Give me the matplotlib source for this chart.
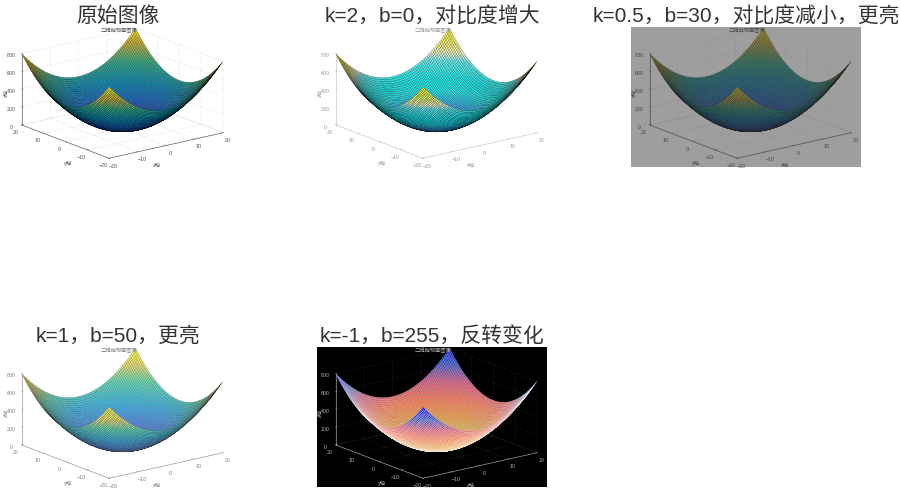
import numpy as np
import matplotlib
matplotlib.use("Agg")
import matplotlib.pyplot as plt
from matplotlib.colors import LinearSegmentedColormap

titles = ["原始图像", "k=2，b=0，对比度增大", "k=0.5，b=30，对比度减小，更亮",
          "k=1，b=50，更亮", "k=-1，b=255，反转变化"]
inner_titles = ["二维抛物面图像", "二维抛物面图像", "二维抛物面图像", "二维抛物面图像", "二维抛物面图像"]
gain = [1, 2, 0.5, 1, -1]
offset = [0, 0, 30, 50, 255]
half_grid = [0, 0.5, 1, 1.5, 2, 2.5, 3, 3.5, 4, 4.5, 5, 5.5, 6, 6.5, 7, 7.5, 8, 8.5, 9, 9.5, 10,
             10.5, 11, 11.5, 12, 12.5, 13, 13.5, 14, 14.5, 15, 15.5, 16, 16.5, 17, 17.5, 18, 18.5, 19, 19.5, 20]
half_profile = [0, 0.25, 1, 2.25, 4, 6.25, 9, 12.25, 16, 20.25, 25, 30.25, 36, 42.25, 49, 56.25, 64, 72.25, 81, 90.25, 100,
                110.25, 121, 132.25, 144, 156.25, 169, 182.25, 196, 210.25, 225, 240.25, 256, 272.25, 289, 306.25, 324, 342.25, 361, 380.25, 400]
xy_ticks = [-20, -10, 0, 10, 20]
z_ticks = [0, 200, 400, 600, 800]

W, H = 901, 490
panel_px = [(3, 27), (317, 27), (631, 27), (3, 347), (317, 347)]
PW, PH = 230, 140
label_rel = {"z轴": (3, 66, 90), "y轴": (65, 136, 0), "x轴": (154, 138, 0)}

cmap = LinearSegmentedColormap.from_list("parula_like", [
    (0.0, (0.21, 0.17, 0.53)), (0.2, (0.08, 0.42, 0.85)), (0.4, (0.03, 0.60, 0.75)),
    (0.6, (0.20, 0.72, 0.55)), (0.8, (0.85, 0.72, 0.22)), (1.0, (0.98, 0.98, 0.06))])

plt.rcParams["font.family"] = ["Liberation Sans", "Noto Sans CJK SC"]
fig = plt.figure(figsize=(W / 100, H / 100), dpi=100, facecolor="white")

g = np.array(half_grid, float)
g = np.concatenate([-g[:0:-1], g])
P = np.array(half_profile, float)
P = np.concatenate([P[:0:-1], P])
X, Y = np.meshgrid(g, g)
Z = P[:, None] + P[None, :]

for i, (px, py) in enumerate(panel_px):
    k, b = gain[i], offset[i]
    def f(c):
        return np.clip(k * np.asarray(c, float) + b / 255, 0, 1)
    def ft(c):
        return tuple(float(v) for v in f(c))
    bg = fig.add_axes([px / W, 1 - (py + PH) / H, PW / W, PH / H], facecolor=ft((1, 1, 1)))
    bg.set_xticks([]); bg.set_yticks([])
    for s in bg.spines.values():
        s.set_visible(False)
    fig.text((px + PW / 2) / W, 1 - (py - 1) / H, titles[i], ha="center", va="bottom",
             fontsize=15, color="#333333")
    side = 210
    cx, cy = px + 116.5, py + 69
    ax = fig.add_axes([(cx - side / 2) / W, 1 - (cy + side / 2) / H, side / W, side / H],
                      projection="3d", proj_type="ortho")
    ax.patch.set_alpha(0)
    ax.view_init(elev=17, azim=-127.5)
    ax.set_box_aspect((1, 1, 0.52), zoom=1.0)
    colors = f(cmap(Z / 800)[:, :, :3])
    ax.plot_surface(X, Y, Z, facecolors=colors, rstride=1, cstride=1, shade=False,
                    edgecolor=ft((0, 0, 0)), linewidth=0.12, antialiased=True)
    ax.set_xlim(-20, 20); ax.set_ylim(-20, 20); ax.set_zlim(0, 800)
    ax.set_xticks(xy_ticks); ax.set_yticks(xy_ticks); ax.set_zticks(z_ticks)
    ax.zaxis.set_ticks_position("upper")
    tc = ft((0.3, 0.3, 0.3))
    for axis in (ax.xaxis, ax.yaxis, ax.zaxis):
        axis.set_pane_color(ft((1, 1, 1)) + (0.0,))
        axis._axinfo["grid"].update(color=ft((0.82, 0.82, 0.82)), linewidth=0.45, linestyle=":")
        axis._axinfo["tick"].update(inward_factor=0.0, outward_factor=0.15, linewidth={True: 0.3, False: 0.3})
        axis.line.set_color(ft((0.4, 0.4, 0.4)))
        axis.line.set_linewidth(0.5)
        axis.set_tick_params(labelsize=3.8, colors=tc, pad=-4, length=1, width=0.3)
    for lab, (lx, ly, rot) in label_rel.items():
        fig.text((px + lx) / W, 1 - (py + ly) / H, lab, ha="center", va="center", rotation=rot,
                 fontsize=3.8, color=tc, family=["Noto Sans CJK SC", "DejaVu Sans"], zorder=10)
    fig.text((px + PW / 2 + 1) / W, 1 - (py + 4) / H, inner_titles[i], ha="center", va="center",
             fontsize=3.8, color=tc, family=["Noto Sans CJK SC", "DejaVu Sans"], zorder=10)

fig.savefig("out.png", dpi=100)
